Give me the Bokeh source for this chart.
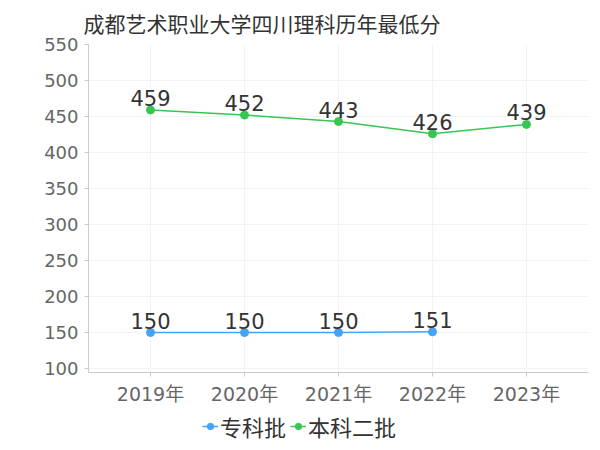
from bokeh.plotting import figure
from bokeh.layouts import column
from bokeh.models import FactorRange, Range1d, ColumnDataSource, Legend, LegendItem, LabelSet
from bokeh.core.properties import value
from bokeh.embed import file_html
from bokeh.resources import INLINE

title = "成都艺术职业大学四川理科历年最低分"
years = ["2019年", "2020年", "2021年", "2022年", "2023年"]
s1_name = "专科批"
s1_x = ["2019年", "2020年", "2021年", "2022年"]
s1_y = [150, 150, 150, 151]
s2_name = "本科二批"
s2_x = ["2019年", "2020年", "2021年", "2022年", "2023年"]
s2_y = [459, 452, 443, 426, 439]
y_ticks = [100, 150, 200, 250, 300, 350, 400, 450, 500, 550]

FONT = "DejaVu Sans, Noto Sans CJK SC"
blue = "#45a3f7"
green = "#38c652"

p = figure(width=600, height=410, output_backend="svg", toolbar_location=None,
           x_range=FactorRange(factors=years, range_padding=0.16, range_padding_units="absolute"),
           y_range=Range1d(94.5, 550),
           min_border_left=88, min_border_right=12, min_border_top=44, min_border_bottom=38)

p.title.text = title
p.title.text_font = FONT
p.title.text_font_size = "21px"
p.title.text_font_style = "normal"
p.title.text_color = "#333333"
p.title.align = "left"
p.title.offset = -5
p.title.standoff = 15

p.outline_line_color = None
p.background_fill_color = "white"
p.border_fill_color = "white"

p.xgrid.grid_line_color = "#f3f3f3"
p.ygrid.grid_line_color = "#f3f3f3"
p.ygrid.ticker = y_ticks
p.yaxis.ticker = y_ticks

for ax in (p.xaxis[0], p.yaxis[0]):
    ax.axis_line_color = "#cccccc"
    ax.major_tick_line_color = "#cccccc"
    ax.major_tick_out = 4
    ax.major_tick_in = 0
    ax.minor_tick_line_color = None
    ax.major_label_text_color = "#666666"
    ax.major_label_text_font = FONT
p.yaxis.major_label_text_font_size = "18px"
p.xaxis.major_label_text_font_size = "19px"
p.yaxis.major_label_standoff = 6
p.xaxis.major_label_standoff = 6

src1 = ColumnDataSource(dict(x=s1_x, y=s1_y, t=[str(v) for v in s1_y]))
src2 = ColumnDataSource(dict(x=s2_x, y=s2_y, t=[str(v) for v in s2_y]))

p.line("x", "y", source=src1, line_color=blue, line_width=1.5)
p.scatter("x", "y", source=src1, size=8, fill_color=blue, line_color=blue)
p.line("x", "y", source=src2, line_color=green, line_width=1.5)
p.scatter("x", "y", source=src2, size=8, fill_color=green, line_color=green)

for src in (src1, src2):
    lbl = LabelSet(x="x", y="y", text="t", source=src, text_align="center",
                   text_baseline="bottom", y_offset=4, text_font_size=value("21px"),
                   text_color=value("#333333"), text_font=value(FONT))
    p.add_layout(lbl)

# legend strip below the chart (its sample glyphs sit outside the visible range)
lf = figure(width=600, height=40, output_backend="svg", toolbar_location=None,
            x_range=Range1d(0, 1), y_range=Range1d(0, 1),
            x_axis_location=None, y_axis_location=None,
            min_border_left=0, min_border_right=0, min_border_top=0, min_border_bottom=0)
lf.grid.visible = False
lf.outline_line_color = None
off = dict(x=[-5, -4], y=[-5, -5])
g1 = lf.line("x", "y", source=ColumnDataSource(off), line_color=blue, line_width=1.5)
m1 = lf.scatter("x", "y", source=ColumnDataSource(off), size=6, fill_color=blue, line_color=blue)
g2 = lf.line("x", "y", source=ColumnDataSource(off), line_color=green, line_width=1.5)
m2 = lf.scatter("x", "y", source=ColumnDataSource(off), size=6, fill_color=green, line_color=green)

legend = Legend(items=[LegendItem(label=s1_name, renderers=[g1, m1]),
                       LegendItem(label=s2_name, renderers=[g2, m2])],
                orientation="horizontal", location=(114, 8),
                label_text_font=FONT, label_text_font_size="22px",
                label_text_color="#333333", glyph_width=16, glyph_height=20,
                label_standoff=2, spacing=4, padding=0, margin=0,
                border_line_color=None, background_fill_alpha=0)
lf.add_layout(legend, "center")

layout = column(p, lf, spacing=0)
open("out.html", "w").write(file_html(layout, INLINE))
